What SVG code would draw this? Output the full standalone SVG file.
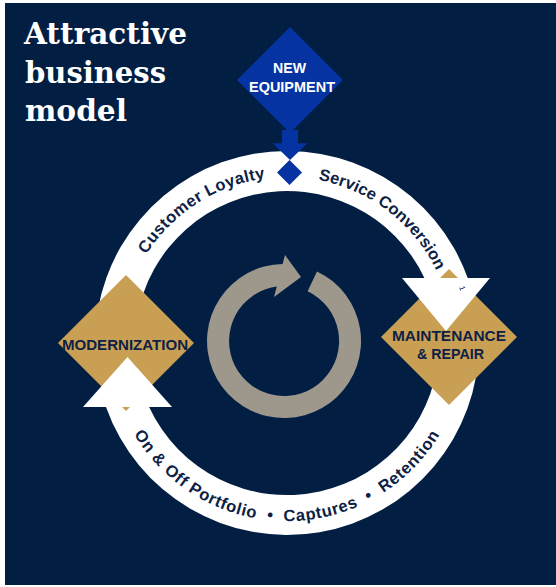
<svg xmlns="http://www.w3.org/2000/svg" xmlns:xlink="http://www.w3.org/1999/xlink" width="556" height="587" viewBox="0 0 556 587">
  <style>
    .band { fill: #ffffff; }
    .gold { fill: #C9A053; }
    .blue { fill: #0533A1; }
    .gray { fill: #9D978C; }
    .title { font-family: "DejaVu Serif", "Liberation Serif", serif; font-weight: bold; font-size: 30px; fill: #ffffff; }
    .dlabel { font-family: "Liberation Sans", Arial, sans-serif; font-weight: bold; font-size: 15px; fill: #0D2146; text-anchor: middle; }
    .wlabel { font-family: "Liberation Sans", Arial, sans-serif; font-weight: bold; font-size: 15px; fill: #ffffff; text-anchor: middle; }
    .ring { font-family: "Liberation Sans", Arial, sans-serif; font-weight: bold; font-size: 16.5px; fill: #0D2146; }
  </style>
  <defs>
    <path id="topArc" d="M131.0,286.2 A166,166 0 0 1 443.0,286.2" fill="none"/>
    <path id="bottomArc" d="M119.7,403.9 A178,178 0 0 0 454.3,403.9" fill="none"/>
  </defs>

  <rect x="5" y="3" width="551" height="582" fill="#021F43"/>

  <g id="title">
    <text class="title" x="24" y="44" textLength="163" lengthAdjust="spacingAndGlyphs">Attractive</text>
    <text class="title" x="25" y="82.5" textLength="141" lengthAdjust="spacingAndGlyphs">business</text>
    <text class="title" x="25" y="120.5" textLength="102" lengthAdjust="spacingAndGlyphs">model</text>
  </g>

  <g id="connectors">
    <path id="top-arc-band" class="band" d="M95,343 A192,192 0 0 1 467.7,278 L424.4,278 A152,152 0 0 0 135,343 Z"/>
    <path id="bottom-arc-band" class="band" d="M479,343 A192,192 0 0 1 106,407 L149.1,407 A152,152 0 0 0 439,343 Z"/>
    <g id="new-equipment-arrow" class="blue">
      <rect x="282" y="130" width="16" height="14"/>
      <polygon points="272.7,143.3 307.3,143.3 290,160"/>
      <polygon points="289.5,160 302,172.5 289.5,185 277,172.5"/>
    </g>
  </g>

  <g id="cycle-icon">
    <path class="gray" d="M317,271.4 A77,77 0 1 1 282.6,264.0 L285,255 L301,277 L274,297 L276.8,286.5 A55,55 0 1 0 307.6,291.3 Z"/>
  </g>

  <g id="new-equipment">
    <polygon class="blue" points="290,27 343,80 290,133 237,80"/>
    <text class="wlabel" x="289.5" y="72.7" textLength="33" lengthAdjust="spacingAndGlyphs">NEW</text>
    <text class="wlabel" x="292" y="91.7" textLength="86" lengthAdjust="spacingAndGlyphs">EQUIPMENT</text>
  </g>

  <g id="modernization">
    <polygon class="gold" points="126,275 194,343 126,411 58,343"/>
    <polygon class="band" points="83,407 172,407 127.5,357"/>
    <text class="dlabel" x="125" y="350" textLength="126" lengthAdjust="spacingAndGlyphs">MODERNIZATION</text>
  </g>

  <g id="maintenance-repair">
    <polygon class="gold" points="449,269 517,337 449,405 381,337"/>
    <polygon class="band" points="402,278 490,278 446,331"/>
    <text class="dlabel" x="449" y="340.7" textLength="114" lengthAdjust="spacingAndGlyphs">MAINTENANCE</text>
    <text class="dlabel" x="450.5" y="359.3" textLength="67" lengthAdjust="spacingAndGlyphs">&amp; REPAIR</text>
  </g>

  <g id="ring-labels">
    <text class="ring" letter-spacing="0.4" text-anchor="middle"><textPath xlink:href="#topArc" href="#topArc" startOffset="26.7%">Customer Loyalty</textPath></text>
    <text class="ring" text-anchor="middle"><textPath xlink:href="#topArc" href="#topArc" startOffset="76.8%">Service Conversion</textPath></text>
    <text x="459" y="287" font-family="Liberation Sans, Arial, sans-serif" font-size="8" fill="#0D2146" transform="rotate(71 459 287)">1</text>
    <text class="ring" letter-spacing="0.7" text-anchor="middle"><textPath xlink:href="#bottomArc" href="#bottomArc" startOffset="50%">On &amp; Off Portfolio&#160;&#160;•&#160;&#160;Captures&#160;&#160;•&#160;&#160;Retention</textPath></text>
  </g>
</svg>
